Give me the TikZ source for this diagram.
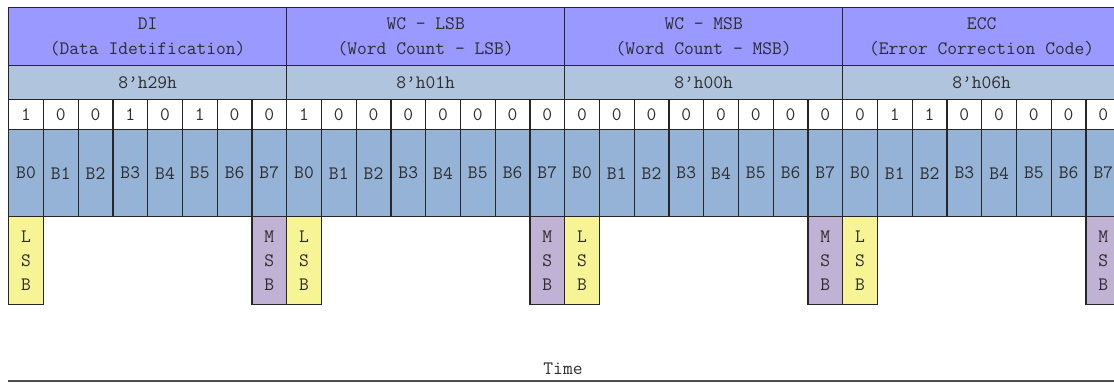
\documentclass[tikz,border=0pt]{standalone}
\usepackage{fontspec}
\definecolor{hdrc}{RGB}{153,153,255}
\definecolor{hexc}{RGB}{176,196,222}
\definecolor{bitc}{RGB}{149,179,215}
\definecolor{lsbc}{RGB}{246,244,148}
\definecolor{msbc}{RGB}{192,178,213}
\definecolor{txtc}{RGB}{45,45,45}
\begin{document}
\begin{tikzpicture}[x=1pt,y=-1pt,
  cell/.style={draw=black!85,line width=1.3pt,anchor=north west,inner sep=0pt,
    font=\ttfamily\fontsize{19}{25}\selectfont,text=txtc,align=center},
  hdrbox/.style={cell,fill=hdrc,minimum width=278pt,minimum height=58pt},
  hexbox/.style={cell,fill=hexc,minimum width=278pt,minimum height=34pt},
  valbox/.style={cell,fill=white,minimum width=34.75pt,minimum height=30pt},
  bitbox/.style={cell,fill=bitc,minimum width=34.75pt,minimum height=87pt},
  sigbox/.style={cell,minimum width=34.75pt,minimum height=88pt,font=\ttfamily\fontsize{19}{24}\selectfont},
  lsbbox/.style={sigbox,fill=lsbc},
  msbbox/.style={sigbox,fill=msbc},
  timeline/.style={draw=black!70,line width=2pt},
  lbl/.style={font=\ttfamily\fontsize{19}{20}\selectfont,text=txtc,inner sep=0pt}]
\useasboundingbox (0,0) rectangle (1114,388);
\clip (0,0) rectangle (1114,388);
\foreach \k/\title/\hexv/\bits in {
  0/{DI\\(Data Idetification)}/{8’h29h}/{1,0,0,1,0,1,0,0},
  1/{WC - LSB\\(Word Count - LSB)}/{8’h01h}/{1,0,0,0,0,0,0,0},
  2/{WC - MSB\\(Word Count - MSB)}/{8’h00h}/{0,0,0,0,0,0,0,0},
  3/{ECC\\(Error Correction Code)}/{8’h06h}/{0,1,1,0,0,0,0,0}}{
  \pgfmathsetmacro{\xs}{8+278*\k}
  \node[hdrbox] (h\k) at (\xs,7) {\title};
  \node[hexbox] (x\k) at (\xs,65) {\hexv};
  \foreach \v [count=\i from 0] in \bits {
    \pgfmathsetmacro{\xc}{\xs+34.75*\i}
    \node[valbox] (v\k-\i) at (\xc,99) {\v};
    \node[bitbox] (b\k-\i) at (\xc,129) {B\i};
  }
  \node[lsbbox] (l\k) at (\xs,216) {L\\S\\B};
  \pgfmathsetmacro{\xm}{\xs+34.75*7}
  \node[msbbox] (m\k) at (\xm,216) {M\\S\\B};
}
\coordinate (t0) at (8,381);
\coordinate (t1) at (1114,381);
\draw[timeline] (t0) -- (t1);
\node[lbl] (time) at (563,369) {Time};
\end{tikzpicture}
\end{document}
